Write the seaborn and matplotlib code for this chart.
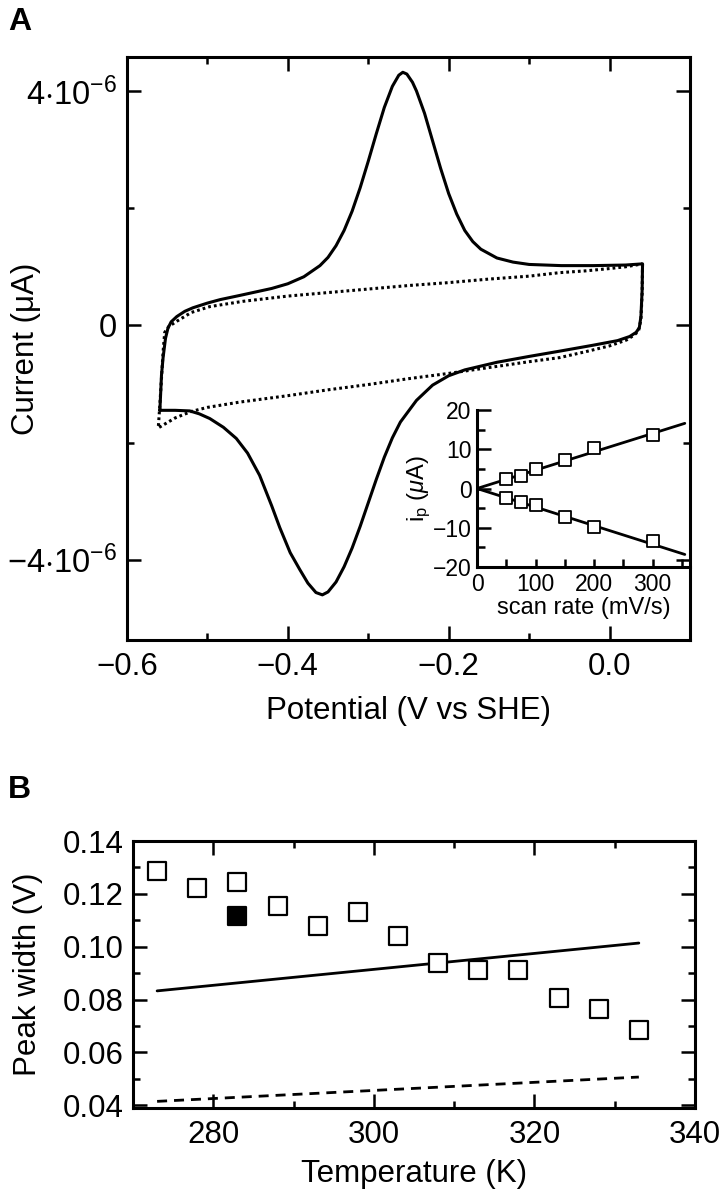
import numpy as np
import pandas as pd
import matplotlib
matplotlib.use("Agg")
import matplotlib.pyplot as plt
import seaborn as sns
from matplotlib.ticker import FixedLocator, MultipleLocator, FixedFormatter

# ---------------- Panel A: cyclic voltammogram (current in uA) ----------------
cv_fwd_v = [-0.559, -0.558, -0.557, -0.555, -0.552, -0.549, -0.545, -0.538, -0.528, -0.518,
            -0.500, -0.484, -0.46, -0.44, -0.42, -0.40, -0.38, -0.36, -0.35, -0.34,
            -0.33, -0.32, -0.31, -0.30, -0.29, -0.28, -0.27, -0.262, -0.257, -0.252,
            -0.245, -0.24, -0.23, -0.22, -0.21, -0.20, -0.19, -0.18, -0.17, -0.16,
            -0.14, -0.12, -0.10, -0.06, -0.02, 0.02, 0.041]
cv_fwd_i = [-1.45, -1.15, -0.85, -0.55, -0.22, -0.05, 0.06, 0.15, 0.24, 0.30,
            0.38, 0.44, 0.51, 0.57, 0.63, 0.71, 0.83, 1.02, 1.16, 1.36,
            1.62, 1.95, 2.35, 2.80, 3.27, 3.72, 4.08, 4.27, 4.32, 4.29,
            4.15, 4.00, 3.62, 3.15, 2.68, 2.25, 1.90, 1.62, 1.43, 1.30,
            1.15, 1.08, 1.04, 1.02, 1.02, 1.03, 1.05]
cv_rev_v = [0.041, 0.0405, 0.039, 0.037, 0.033, 0.025, 0.010, -0.021, -0.062, -0.10,
            -0.14, -0.18, -0.20, -0.22, -0.24, -0.26, -0.27, -0.28, -0.29, -0.30,
            -0.31, -0.32, -0.33, -0.34, -0.35, -0.357, -0.365, -0.375, -0.385, -0.397,
            -0.41, -0.42, -0.435, -0.45, -0.464, -0.48, -0.497, -0.51, -0.522, -0.54, -0.559]
cv_rev_i = [1.05, 0.60, 0.15, -0.04, -0.12, -0.19, -0.26, -0.34, -0.44, -0.53,
            -0.63, -0.76, -0.86, -1.02, -1.28, -1.65, -1.92, -2.25, -2.63, -3.03,
            -3.43, -3.80, -4.12, -4.38, -4.55, -4.60, -4.56, -4.40, -4.17, -3.88,
            -3.45, -3.08, -2.56, -2.18, -1.93, -1.74, -1.59, -1.51, -1.46, -1.45, -1.45]
bg_v = [0.041, 0.0405, 0.039, 0.036, 0.030, 0.021, 0.0, -0.03, -0.062, -0.10,
        -0.15, -0.20, -0.25, -0.30, -0.35, -0.40, -0.46, -0.50, -0.52, -0.54,
        -0.561, -0.559, -0.557, -0.555, -0.553, -0.548, -0.538, -0.52, -0.497, -0.456,
        -0.40, -0.35, -0.30, -0.25, -0.20, -0.15, -0.10, -0.062, -0.03, 0.0, 0.02, 0.041]
bg_i = [1.05, 0.55, 0.10, -0.10, -0.17, -0.25, -0.35, -0.45, -0.55, -0.62,
        -0.72, -0.82, -0.91, -1.01, -1.10, -1.20, -1.31, -1.40, -1.47, -1.58,
        -1.75, -1.35, -0.90, -0.45, -0.12, -0.02, 0.07, 0.22, 0.32, 0.41,
        0.50, 0.56, 0.62, 0.68, 0.73, 0.79, 0.84, 0.90, 0.93, 0.97, 1.00, 1.05]

# ---------------- Inset: peak current vs scan rate ----------------
scan_rate = [50, 75, 100, 150, 200, 300]
ip_anodic = [2.4, 3.1, 4.9, 7.2, 10.2, 13.6]
ip_cathodic = [-2.3, -3.4, -4.3, -7.2, -9.8, -13.4]
fit_rate = [0, 355]
fit_anodic = [0.0, 16.6]
fit_cathodic = [0.0, -16.8]

# ---------------- Panel B: peak width vs temperature ----------------
temp_open = [273, 278, 283, 288, 293, 298, 303, 308, 313, 318, 323, 328, 333]
width_open = [0.1287, 0.1222, 0.1244, 0.1153, 0.1078, 0.1130, 0.1040,
              0.0940, 0.0911, 0.0913, 0.0807, 0.0766, 0.0685]
temp_filled = [283]
width_filled = [0.1115]
theory_T = [273, 333]
theory_n1 = [0.0833, 0.1014]
theory_n2 = [0.0415, 0.0507]

# ---------------- style ----------------
sns.set_theme(style="ticks")
plt.rcParams['font.family'] = ['Liberation Sans', 'DejaVu Sans']
plt.rcParams['mathtext.fontset'] = 'custom'
plt.rcParams['mathtext.rm'] = 'Liberation Sans'
plt.rcParams['mathtext.it'] = 'Liberation Sans:italic'
plt.rcParams['mathtext.bf'] = 'Liberation Sans:bold'
plt.rcParams['axes.unicode_minus'] = True
plt.rcParams['text.color'] = 'black'
plt.rcParams['axes.labelcolor'] = 'black'
plt.rcParams['xtick.color'] = 'black'
plt.rcParams['ytick.color'] = 'black'

FS = 22.5
FS_IN = 16.5
SPINE = 2.2

fig = plt.figure(figsize=(7.21, 11.96), dpi=100)

def style_main(ax):
    for s in ax.spines.values():
        s.set_linewidth(SPINE)
        s.set_color('black')
    ax.tick_params(which='both', direction='in', top=True, right=True,
                   color='black', width=1.8, labelsize=FS, labelcolor='black')
    ax.tick_params(which='major', length=10)
    ax.tick_params(which='minor', length=5)
    ax.tick_params(axis='x', which='both', pad=9)
    ax.tick_params(axis='y', which='both', pad=7)
    ax.set_facecolor('white')

# ---- Panel A ----
axA = fig.add_axes([0.176, 0.4649, 0.781, 0.4874])
dfA = pd.DataFrame({'V': cv_fwd_v + cv_rev_v, 'I': np.array(cv_fwd_i + cv_rev_i) * 1e-6})
dfB = pd.DataFrame({'V': bg_v, 'I': np.array(bg_i) * 1e-6})
sns.lineplot(data=dfB, x='V', y='I', sort=False, estimator=None, ax=axA,
             color='black', lw=2.2, linestyle=(0, (0.9, 1.0)))
sns.lineplot(data=dfA, x='V', y='I', sort=False, estimator=None, ax=axA,
             color='black', lw=2.2)
axA.set_xlim(-0.6, 0.1)
axA.set_ylim(-5.37e-6, 4.58e-6)
axA.xaxis.set_major_locator(FixedLocator([-0.6, -0.4, -0.2, 0.0]))
axA.xaxis.set_major_formatter(FixedFormatter(['\u22120.6', '\u22120.4', '\u22120.2', '0.0']))
axA.xaxis.set_minor_locator(FixedLocator([-0.5, -0.3, -0.1]))
axA.yaxis.set_major_locator(FixedLocator([-4e-6, 0, 4e-6]))
axA.yaxis.set_major_formatter(FixedFormatter([r'$-4{\cdot}10^{-6}$', '0', r'$4{\cdot}10^{-6}$']))
axA.yaxis.set_minor_locator(FixedLocator([-2e-6, 2e-6]))
style_main(axA)
axA.tick_params(axis='y', labelsize=23.5)
axA.set_xlabel('Potential (V vs SHE)', fontsize=FS, labelpad=10)
axA.set_ylabel('Current (\u03bcA)', fontsize=FS)
axA.yaxis.set_label_coords(-0.152, 0.5)

# ---- Inset ----
axI = fig.add_axes([0.6616, 0.5259, 0.2955, 0.1313])
axI.patch.set_alpha(0)
dfIn = pd.DataFrame({'rate': scan_rate * 2, 'ip': ip_anodic + ip_cathodic})
sns.lineplot(x=fit_rate, y=fit_anodic, ax=axI, color='black', lw=2.0, sort=False, estimator=None)
sns.lineplot(x=fit_rate, y=fit_cathodic, ax=axI, color='black', lw=2.0, sort=False, estimator=None)
sns.scatterplot(data=dfIn, x='rate', y='ip', ax=axI, marker='s', s=70,
                facecolor='white', edgecolor='black', linewidth=1.3, zorder=3)
axI.set_xlim(0, 364)
axI.set_ylim(-20, 20)
for side in ['top', 'right']:
    axI.spines[side].set_visible(False)
for side in ['left', 'bottom']:
    axI.spines[side].set_linewidth(SPINE)
    axI.spines[side].set_color('black')
axI.xaxis.set_major_locator(FixedLocator([0, 100, 200, 300]))
axI.xaxis.set_minor_locator(FixedLocator([50, 150, 250, 350]))
axI.yaxis.set_major_locator(MultipleLocator(10))
axI.yaxis.set_minor_locator(FixedLocator([-15, -5, 5, 15]))
axI.tick_params(which='both', direction='in', color='black', width=1.8,
                labelsize=FS_IN, labelcolor='black')
axI.tick_params(axis='y', which='major', length=10, pad=4)
axI.tick_params(axis='y', which='minor', length=6)
axI.tick_params(axis='x', which='both', length=6, pad=4)
axI.set_xlabel('scan rate (mV/s)', fontsize=FS_IN + 0.5, labelpad=1)
axI.set_ylabel(r'$\mathregular{i_p}$ ($\mu$A)', fontsize=FS_IN + 0.5, labelpad=0)

# ---- Panel B ----
axB = fig.add_axes([0.1845, 0.0736, 0.7795, 0.2232])
sns.lineplot(x=theory_T, y=theory_n1, ax=axB, color='black', lw=2.0, sort=False, estimator=None)
sns.lineplot(x=theory_T, y=theory_n2, ax=axB, color='black', lw=2.0,
             linestyle=(0, (3.6, 2.5)), sort=False, estimator=None)
sns.scatterplot(x=temp_open, y=width_open, ax=axB, marker='s', s=150,
                facecolor='white', edgecolor='black', linewidth=1.6, zorder=3)
sns.scatterplot(x=temp_filled, y=width_filled, ax=axB, marker='s', s=150,
                facecolor='black', edgecolor='black', linewidth=1.6, zorder=3)
axB.set_xlim(270, 340)
axB.set_ylim(0.039, 0.14)
axB.xaxis.set_major_locator(FixedLocator([280, 300, 320, 340]))
axB.xaxis.set_minor_locator(FixedLocator([290, 310, 330]))
axB.yaxis.set_major_locator(FixedLocator([0.04, 0.06, 0.08, 0.10, 0.12, 0.14]))
axB.yaxis.set_major_formatter(FixedFormatter(['0.04', '0.06', '0.08', '0.10', '0.12', '0.14']))
axB.yaxis.set_minor_locator(FixedLocator([0.05, 0.07, 0.09, 0.11, 0.13]))
style_main(axB)
axB.set_xlabel('Temperature (K)', fontsize=FS, labelpad=6)
axB.set_ylabel('Peak width (V)', fontsize=FS)
axB.yaxis.set_label_coords(-0.16, 0.5)

fig.text(0.011, 0.994, 'A', fontsize=23, fontweight='bold', va='top', ha='left', color='black')
fig.text(0.011, 0.352, 'B', fontsize=23, fontweight='bold', va='top', ha='left', color='black')

fig.savefig('out.png', dpi=100, facecolor='white')
